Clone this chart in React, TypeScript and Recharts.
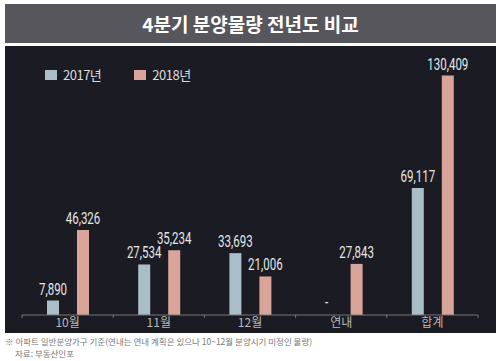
import React from "react";
import { Bar, BarChart, Cell, LabelList, XAxis, YAxis } from "recharts";

const categories = ["10월", "11월", "12월", "연내", "합계"];
const y2017 = [7890, 27534, 33693, 0, 69117];
const y2018 = [46326, 35234, 21006, 27843, 130409];

const data = categories.map((name, i) => ({
  name,
  y2017: y2017[i],
  y2018: y2018[i],
}));

const BLUE = "#a9bec6";
const PINK = "#d9a49a";
const NUM_FONT = "Roboto, 'DejaVu Sans', sans-serif";
const KR_FONT = "'Noto Sans CJK KR', 'Noto Sans', sans-serif";

const fmt = (v: any) => (v ? Number(v).toLocaleString("en-US") : "-");

// condensed number label drawn above each bar
function ValueLabel(props: any) {
  const { x, y, width, value } = props;
  const cx = Number(x) + Number(width) / 2;
  const ty = Number(y) - 6;
  return (
    <text
      transform={`translate(${cx},${ty}) scale(0.72,1)`}
      textAnchor="middle"
      fill="#e6e6e6"
      fontSize={16}
      fontFamily={NUM_FONT}
    >
      {fmt(value)}
    </text>
  );
}

function CategoryTick(props: any) {
  const { x, y, payload, index, visibleTicksCount } = props;
  const half = 91.2 / 2;
  return (
    <g>
      <line x1={x - half} y1={y - 8} x2={x - half} y2={y - 5} stroke="#777" />
      {index === visibleTicksCount - 1 && (
        <line x1={x + half} y1={y - 8} x2={x + half} y2={y - 5} stroke="#777" />
      )}
      <text
        x={x}
        y={y + 4}
        textAnchor="middle"
        fill="#b9b9b9"
        fontSize={12}
        fontFamily={KR_FONT}
      >
        {payload.value}
      </text>
    </g>
  );
}

export default function App() {
  return (
    <div
      style={{
        position: "absolute",
        left: 0,
        top: 0,
        width: 500,
        height: 361,
        background: "#fff",
        fontFamily: KR_FONT,
      }}
    >
      <div
        style={{
          position: "absolute",
          left: 5,
          top: 4,
          width: 491,
          height: 39,
          background: "#56565c",
          color: "#fff",
          fontSize: 19,
          fontWeight: 700,
          textAlign: "center",
          lineHeight: "39px",
        }}
      >
        4분기 분양물량 전년도 비교
      </div>
      <div
        style={{
          position: "absolute",
          left: 5,
          top: 46,
          width: 491,
          height: 287,
          background: "#1b1c23",
        }}
      >
        <BarChart
          width={491}
          height={287}
          data={data}
          margin={{ top: 12, right: 18, left: 17, bottom: 0 }}
          barSize={12}
          barGap={18}
        >
          <YAxis hide domain={[0, 140000]} />
          <XAxis
            dataKey="name"
            axisLine={{ stroke: "#777" }}
            tickLine={false}
            height={18}
            tick={<CategoryTick />}
            interval={0}
          />
          <Bar dataKey="y2017" fill={BLUE} minPointSize={1} isAnimationActive={false}>
            {y2017.map((v, i) => (
              <Cell key={i} fill={v ? BLUE : "transparent"} />
            ))}
            <LabelList dataKey="y2017" content={<ValueLabel />} />
          </Bar>
          <Bar dataKey="y2018" fill={PINK} isAnimationActive={false}>
            <LabelList dataKey="y2018" content={<ValueLabel />} />
          </Bar>
        </BarChart>
        <div
          style={{
            position: "absolute",
            left: 40,
            top: 19,
            display: "flex",
            alignItems: "center",
            color: "#dcdcdc",
            fontSize: 13,
          }}
        >
          <span style={{ width: 12, height: 10, background: BLUE, marginRight: 6 }} />
          <span style={{ marginRight: 33, letterSpacing: -0.5 }}>2017년</span>
          <span style={{ width: 12, height: 10, background: PINK, marginRight: 6 }} />
          <span style={{ letterSpacing: -0.5 }}>2018년</span>
        </div>
      </div>
      <div
        style={{
          position: "absolute",
          left: 5,
          top: 335,
          fontSize: 8.5,
          color: "#777",
          lineHeight: "12px",
          whiteSpace: "nowrap",
        }}
      >
        <div>※ 아파트 일반분양가구 기준(연내는 연내 계획은 있으나 10~12월 분양시기 미정인 물량)</div>
        <div style={{ paddingLeft: 10 }}>자료: 부동산인포</div>
      </div>
    </div>
  );
}
